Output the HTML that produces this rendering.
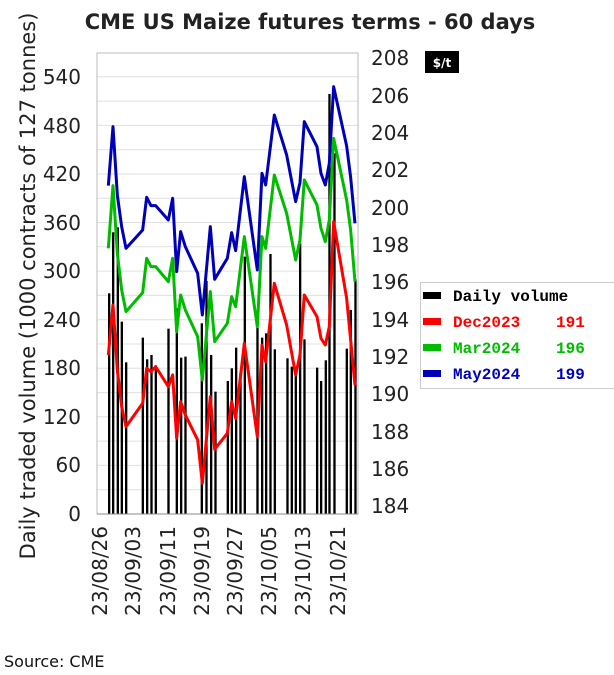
<!DOCTYPE html>
<html><head><meta charset="utf-8"><style>
html,body{margin:0;padding:0;background:#fff;}
svg{display:block;font-family:"DejaVu Sans","Liberation Sans",sans-serif;}
.pre{white-space:pre;}
</style></head><body>
<svg width="614" height="675" viewBox="0 0 614 675">
<text x="310" y="29" text-anchor="middle" font-size="21" font-weight="bold" fill="#222">CME US Maize futures terms - 60 days</text>
<g stroke="#e0e0e0" stroke-width="1">
<line x1="97" x2="358" y1="489.7" y2="489.7"/><line x1="97" x2="358" y1="465.4" y2="465.4"/><line x1="97" x2="358" y1="441.1" y2="441.1"/><line x1="97" x2="358" y1="416.8" y2="416.8"/><line x1="97" x2="358" y1="392.6" y2="392.6"/><line x1="97" x2="358" y1="368.3" y2="368.3"/><line x1="97" x2="358" y1="344" y2="344"/><line x1="97" x2="358" y1="319.7" y2="319.7"/><line x1="97" x2="358" y1="295.4" y2="295.4"/><line x1="97" x2="358" y1="271.1" y2="271.1"/><line x1="97" x2="358" y1="246.8" y2="246.8"/><line x1="97" x2="358" y1="222.5" y2="222.5"/><line x1="97" x2="358" y1="198.3" y2="198.3"/><line x1="97" x2="358" y1="174" y2="174"/><line x1="97" x2="358" y1="149.7" y2="149.7"/><line x1="97" x2="358" y1="125.4" y2="125.4"/><line x1="97" x2="358" y1="101.1" y2="101.1"/><line x1="97" x2="358" y1="76.8" y2="76.8"/>
</g>
<rect x="97" y="53" width="261" height="461" fill="none" stroke="#bbb"/>
<g transform="translate(90,40) scale(0.3333)">
<g fill="#000">
<rect x="54" y="760" width="7" height="662"/><rect x="66" y="577" width="7" height="845"/><rect x="80" y="562" width="7" height="860"/><rect x="92" y="845" width="7" height="577"/><rect x="105" y="967" width="7" height="455"/><rect x="155" y="893" width="7" height="529"/><rect x="168" y="958" width="7" height="464"/><rect x="181" y="945" width="7" height="477"/><rect x="194" y="977" width="7" height="445"/><rect x="232" y="866" width="7" height="556"/><rect x="257" y="805" width="7" height="617"/><rect x="270" y="953" width="7" height="469"/><rect x="283" y="950" width="7" height="472"/><rect x="332" y="850" width="7" height="572"/><rect x="346" y="723" width="7" height="699"/><rect x="360" y="945" width="7" height="477"/><rect x="373" y="1055" width="7" height="367"/><rect x="410" y="1023" width="7" height="399"/><rect x="422" y="985" width="7" height="437"/><rect x="435" y="923" width="7" height="499"/><rect x="448" y="998" width="7" height="424"/><rect x="461" y="650" width="7" height="772"/><rect x="499" y="863" width="7" height="559"/><rect x="513" y="893" width="7" height="529"/><rect x="525" y="880" width="7" height="542"/><rect x="538" y="642" width="7" height="780"/><rect x="551" y="928" width="7" height="494"/><rect x="589" y="955" width="7" height="467"/><rect x="602" y="980" width="7" height="442"/><rect x="614" y="995" width="7" height="427"/><rect x="627" y="610" width="7" height="812"/><rect x="640" y="898" width="7" height="524"/><rect x="678" y="983" width="7" height="439"/><rect x="690" y="1023" width="7" height="399"/><rect x="704" y="961" width="7" height="461"/><rect x="715" y="162" width="7" height="1260"/><rect x="730" y="340" width="7" height="1082"/><rect x="767" y="926" width="7" height="496"/><rect x="779" y="810" width="7" height="612"/><rect x="793" y="718" width="7" height="704"/>
</g>
<g fill="none" stroke-width="9" stroke-linejoin="round">
<polyline stroke="#0000bb" points="55,437 69,260 82,465 95,560 108,625 158,570 170,472 183,497 197,497 235,540 248,475 260,695 272,575 286,620 323,700 337,825 361,560 374,718 412,655 425,578 437,632 463,410 502,690 516,400 527,435 553,225 590,345 617,485 630,428 643,245 681,320 693,400 706,435 718,370 731,140 770,318 782,412 795,550"/>
<polyline stroke="#00bb00" points="55,625 69,437 82,640 95,750 108,815 158,758 170,655 183,680 197,680 235,725 248,655 260,875 272,765 286,810 323,890 337,1020 361,755 374,905 412,850 425,770 437,800 463,590 502,860 516,590 527,625 553,405 590,520 617,660 630,600 643,420 681,495 693,565 706,605 718,540 731,295 770,480 782,570 795,725"/>
<polyline stroke="#ff0000" points="55,945 69,795 82,990 95,1100 108,1160 158,1090 170,985 183,995 197,980 235,1040 248,1005 260,1195 272,1085 286,1125 323,1200 337,1330 361,1070 374,1228 412,1180 425,1085 437,1135 463,910 502,1190 516,915 527,965 553,730 590,855 617,1005 630,945 643,765 681,830 693,895 706,915 718,860 731,545 770,775 782,900 795,1035"/>
</g>
</g>
<line x1="97" x2="358" y1="514" y2="514" stroke="#888"/>
<g font-size="20" fill="#222" text-anchor="end">
<text x="81" y="521">0</text><text x="81" y="472">60</text><text x="81" y="424">120</text><text x="81" y="375">180</text><text x="81" y="327">240</text><text x="81" y="278">300</text><text x="81" y="230">360</text><text x="81" y="181">420</text><text x="81" y="133">480</text><text x="81" y="84">540</text>
</g>
<g font-size="20" fill="#222">
<text x="371" y="65">208</text><text x="371" y="103">206</text><text x="371" y="140">204</text><text x="371" y="177">202</text><text x="371" y="215">200</text><text x="371" y="252">198</text><text x="371" y="289">196</text><text x="371" y="327">194</text><text x="371" y="364">192</text><text x="371" y="401">190</text><text x="371" y="439">188</text><text x="371" y="476">186</text><text x="371" y="513">184</text>
</g>
<rect x="425" y="51" width="34" height="22" fill="#000"/>
<text x="442" y="67" text-anchor="middle" font-size="12" font-weight="bold" fill="#fff">$/t</text>
<text transform="translate(35,286) rotate(-90)" text-anchor="middle" font-size="21" fill="#222">Daily traded volume (1000 contracts of 127 tonnes)</text>
<g font-size="20" fill="#222" text-anchor="end">
<text transform="translate(107,526) rotate(-90)">23/08/26</text>
<text transform="translate(140,526) rotate(-90)">23/09/03</text>
<text transform="translate(175,526) rotate(-90)">23/09/11</text>
<text transform="translate(209,526) rotate(-90)">23/09/19</text>
<text transform="translate(242,526) rotate(-90)">23/09/27</text>
<text transform="translate(276,526) rotate(-90)">23/10/05</text>
<text transform="translate(310,526) rotate(-90)">23/10/13</text>
<text transform="translate(345,526) rotate(-90)">23/10/21</text>
</g>
<rect x="420.5" y="282.5" width="200" height="106" fill="#fff" stroke="#ccc"/>
<g font-family="'Liberation Mono',monospace" font-size="16" font-weight="bold">
<rect x="423" y="292" width="18" height="7" fill="#000"/><text x="453" y="301" fill="#000">Daily volume</text>
<rect x="423" y="318" width="18" height="7" fill="#f00"/><text x="453" y="327" fill="#f00">Dec2023</text><text x="556" y="327" fill="#f00">191</text>
<rect x="423" y="344" width="18" height="7" fill="#0b0"/><text x="453" y="353" fill="#0b0">Mar2024</text><text x="556" y="353" fill="#0b0">196</text>
<rect x="423" y="370" width="18" height="7" fill="#00b"/><text x="453" y="379" fill="#00b">May2024</text><text x="556" y="379" fill="#00b">199</text>
</g>
<text x="4" y="667" font-size="16" fill="#111">Source: CME</text>
</svg>
</body></html>
